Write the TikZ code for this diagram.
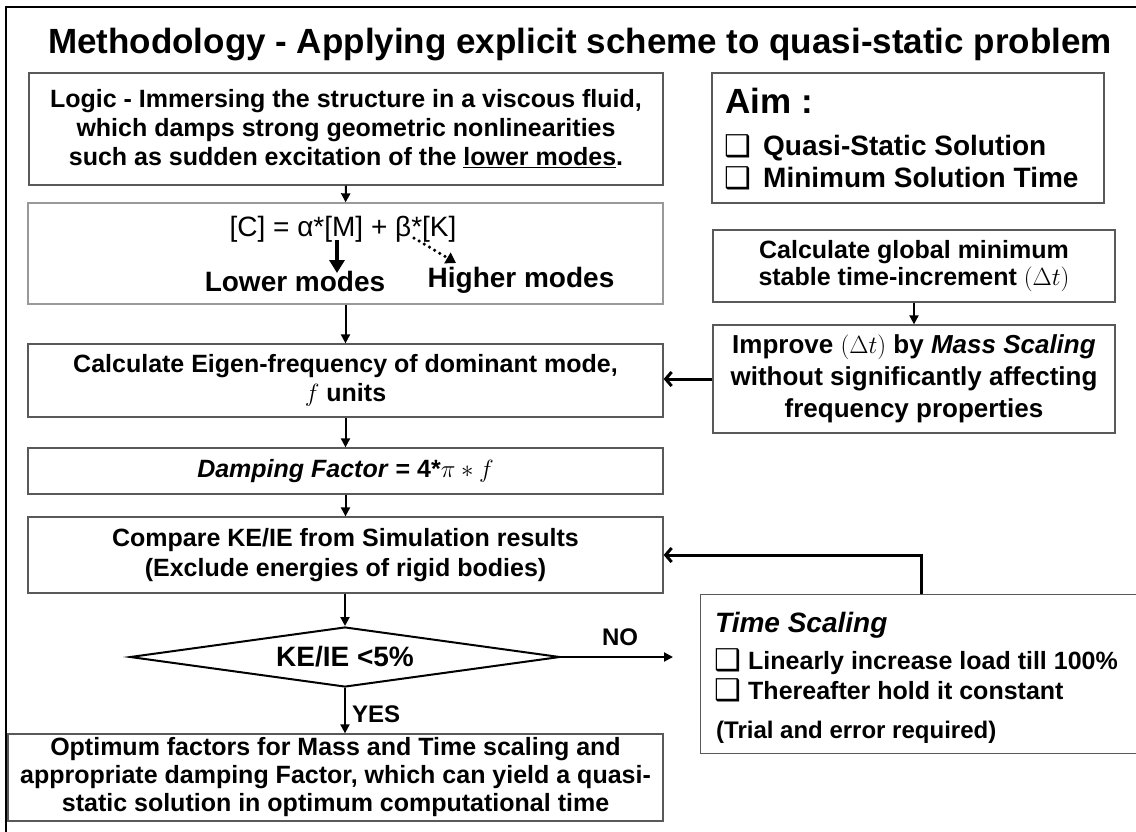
\documentclass[tikz,border=0pt]{standalone}
\usepackage{fontspec}
\setmainfont{Liberation Sans}
\newfontfamily\dejavu{DejaVu Sans}
\usetikzlibrary{arrows.meta,shapes.geometric}
\begin{document}
\begin{tikzpicture}[x=1pt,y=-1pt,
  box/.style={draw=black!65, line width=1.3pt, align=center, inner sep=0pt,
    font=\bfseries\fontsize{25}{29}\selectfont},
  conn/.style={line width=2pt, -{Triangle[length=9pt,width=9pt]}},
  back/.style={line width=3pt, -{Straight Barb[length=6pt,width=14pt]}},
  lbl/.style={inner sep=0pt, font=\bfseries\fontsize{25}{29}\selectfont},
  chk/.style={inner sep=0pt, font=\dejavu\fontsize{30}{34}\selectfont}]
\useasboundingbox (0,0) rectangle (1136,831);
\clip (0,0) rectangle (1136,831);
\draw[line width=2pt] (6,845) -- (6,7) -- (1145,7);

\node[inner sep=0pt, anchor=base, font=\bfseries\fontsize{35}{40}\selectfont] (title) at (580,53)
  {Methodology - Applying explicit scheme to quasi-static problem};

% left column
\node[box, minimum width=634pt, minimum height=112pt] (logic) at (346,129)
  {Logic - Immersing the structure in a viscous fluid,\\
   which damps strong geometric nonlinearities\\
   such as sudden excitation of the \underline{lower modes}.};

\node[box, draw=black!40, minimum width=635pt, minimum height=101pt] (formula) at (345.5,253.5) {};
\node[inner sep=0pt, anchor=base, font=\fontsize{28}{32}\selectfont] (eq) at (343,236) {[C] = α*[M] + β*[K]};
\node[lbl, anchor=base, font=\bfseries\fontsize{28}{32}\selectfont] (lower) at (295,291) {Lower modes};
\node[lbl, anchor=base, font=\bfseries\fontsize{28}{32}\selectfont] (higher) at (521,287) {Higher modes};
\coordinate (la1) at (337,240);
\coordinate (la2) at (337,273);
\coordinate (ha1) at (414,238);
\coordinate (ha2) at (456,263);
\draw[line width=4pt, -{Triangle[length=13pt,width=15pt]}] (la1) -- (la2);
\draw[line width=3.5pt, line cap=round, dash pattern=on 0pt off 6pt,
  -{Triangle[length=10pt,width=12pt,line cap=butt]}] (ha1) -- (ha2);

\node[box, minimum width=635pt, minimum height=73pt] (eigen) at (345.5,380.5)
  {Calculate Eigen-frequency of dominant mode,\\ $f$ units};
\node[box, minimum width=635pt, minimum height=46pt] (damp) at (345.5,471)
  {\textit{Damping Factor} = 4*$\pi\ast f$};
\node[box, minimum width=635pt, minimum height=76pt, font=\bfseries\fontsize{25}{30}\selectfont] (compare) at (345.5,555)
  {Compare KE/IE from Simulation results\\(Exclude energies of rigid bodies)};
\node[diamond, draw=black, line width=2pt, minimum width=430pt, minimum height=60pt, aspect=7,
  inner sep=0pt, font=\bfseries\fontsize{28}{32}\selectfont] (dec) at (345,657) {KE/IE <5\%};
\node[box, minimum width=655pt, minimum height=87pt, font=\bfseries\fontsize{25}{28}\selectfont] (opt) at (335.5,777.5)
  {Optimum factors for Mass and Time scaling and\\
   appropriate damping Factor, which can yield a quasi-\\
   static solution in optimum computational time};

% right column
\node[box, minimum width=392pt, minimum height=130pt] (aim) at (908,138) {};
\node[inner sep=0pt, anchor=base west, font=\bfseries\fontsize{35}{40}\selectfont] (aimt) at (725,113) {Aim :};
\node[chk, anchor=base west] (c1) at (724,156) {❑};
\node[lbl, anchor=base west, font=\bfseries\fontsize{28}{32}\selectfont] (aim1) at (763,155) {Quasi-Static Solution};
\node[chk, anchor=base west] (c2) at (724,188) {❑};
\node[lbl, anchor=base west, font=\bfseries\fontsize{28}{32}\selectfont] (aim2) at (763,187) {Minimum Solution Time};

\node[box, minimum width=402pt, minimum height=72pt, font=\bfseries\fontsize{25}{27}\selectfont] (calc) at (914,266)
  {Calculate global minimum\\stable time-increment $(\Delta t)$};
\node[box, minimum width=402pt, minimum height=108pt, font=\bfseries\fontsize{26}{32}\selectfont] (improve) at (914,379)
  {Improve $(\Delta t)$ by \textit{Mass Scaling}\\without significantly affecting\\frequency properties};

\node[box, anchor=north west, minimum width=445pt, minimum height=159pt] (tbox) at (700,594) {};
\node[lbl, anchor=base west, font=\bfseries\itshape\fontsize{28}{32}\selectfont] (tst) at (715,632) {Time Scaling};
\node[chk, anchor=base west] (c3) at (714,670) {❑};
\node[lbl, anchor=base west] (t1) at (748,669) {Linearly increase load till 100\%};
\node[chk, anchor=base west] (c4) at (714,700) {❑};
\node[lbl, anchor=base west] (t2) at (748,699) {Thereafter hold it constant};
\node[lbl, anchor=base west, font=\bfseries\fontsize{24}{28}\selectfont] (t3) at (716,738) {(Trial and error required)};

% connectors
\draw[conn] (logic.south) -- (formula.north);
\draw[conn] (formula.south) -- (eigen.north);
\draw[conn] (eigen.south) -- (damp.north);
\draw[conn] (damp.south) -- (compare.north);
\draw[conn] (compare.south -| dec.north) -- (dec.north);
\draw[conn] (dec.south) -- (dec.south |- opt.north);
\node[lbl, anchor=west, font=\bfseries\fontsize{24}{28}\selectfont] (yes) at (352,714) {YES};
\coordinate (noend) at (673,657);
\draw[conn] (dec.east) -- (noend);
\node[lbl, font=\bfseries\fontsize{24}{28}\selectfont] (no) at (620,637) {NO};
\draw[conn] (calc.south) -- (improve.north);
\draw[back] (improve.west) -- (improve.west -| eigen.east);
\draw[back] ([xshift=221pt]tbox.north west) |- (compare.east);
\end{tikzpicture}
\end{document}
